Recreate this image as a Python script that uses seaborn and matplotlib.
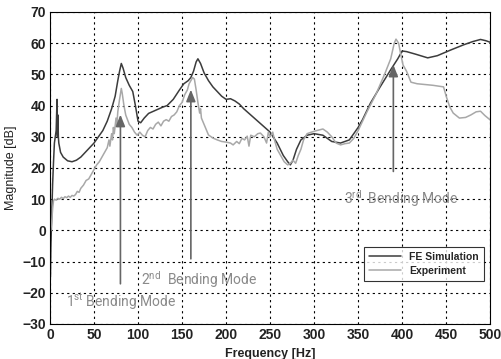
import numpy as np
import pandas as pd
import matplotlib
matplotlib.use('Agg')
import matplotlib.pyplot as plt
import seaborn as sns

# FE simulation curve
fe_freq = [0.5, 1, 2, 3, 4, 5, 6, 7, 8, 8.5, 9, 9.5, 10, 12, 15, 20, 25, 30, 35, 40,
           45, 50, 55, 60, 65, 70, 74, 77, 79, 81, 83, 86, 90, 94, 97, 100, 103, 107,
           112, 120, 128, 133, 140, 147, 152, 157, 160, 163, 166, 168, 171, 175, 180,
           185, 190, 195, 200, 205, 210, 215, 220, 230, 240, 250, 258, 265, 270, 273,
           276, 280, 285, 292, 300, 310, 315, 320, 330, 340, 345, 350, 355, 364, 375,
           387, 395, 400, 405, 415, 429, 440, 455, 470, 480, 489, 495, 500]
fe_mag = [-15, -5, 5, 15, 22, 28, 30, 32, 42, 30, 37, 30, 28, 25, 23.5, 22.3, 22, 22.5,
          23.5, 25, 26.5, 28, 30, 32, 35, 39, 43, 48, 51, 53.5, 52, 49, 46.5, 44.5, 40,
          35, 34.5, 36, 37.5, 38.5, 39.5, 40, 42, 45, 47, 48, 49, 51, 54, 55, 53.5, 50.5,
          48, 46, 44.5, 43, 42, 42.2, 41.5, 40.5, 39, 36.5, 34, 31.5, 28, 24, 22, 21,
          22.5, 26, 29, 30.5, 31, 30.5, 29.5, 28.5, 28, 29, 31, 33, 35.5, 40.8, 46,
          51.5, 55, 57.5, 57.3, 56.5, 55.3, 56, 57.8, 59.5, 60.5, 61.2, 60.8, 60.3]

# measured curve
exp_freq = [1, 2, 3, 4, 5, 7, 9, 11, 13, 15, 17, 19, 21, 23, 25, 27, 29, 31, 33, 35,
            38, 41, 44, 47, 50, 53, 56, 59, 62, 65, 67, 68, 70, 71, 72, 73, 75, 76, 77,
            79, 81, 82, 84, 86, 88, 90, 93, 96, 99, 102, 105, 108, 111, 114, 117, 120,
            123, 126, 129, 132, 135, 138, 141, 144, 147, 150, 153, 156, 158, 160, 162,
            164, 166, 168, 170, 171, 172, 175, 178, 180, 185, 190, 195, 200, 205, 208,
            212, 215, 218, 221, 224, 226, 228, 232, 236, 239, 243, 246, 248, 250, 253,
            255, 258, 262, 266, 270, 273, 276, 279, 282, 285, 288, 292, 297, 303, 310,
            315, 320, 325, 330, 335, 340, 345, 350, 360, 370, 380, 387, 391, 393, 396,
            398, 401, 405, 410, 417, 424, 435, 447, 450, 454, 458, 465, 472, 478, 484,
            489, 494, 500]
exp_mag = [0, 3, 7, 9.5, 10, 9.7, 10.3, 10, 10.6, 10.2, 10.8, 10.5, 11, 10.6, 11.2, 11,
           11.5, 12.5, 12.2, 13.5, 14.5, 16, 16.5, 18, 19.5, 21, 22, 23.5, 25, 26.5, 29,
           27, 31, 29, 33, 31, 36, 34, 38, 42, 45.5, 44, 40, 37, 35.5, 34, 33, 31.5, 30.5,
           31.5, 30.5, 30, 32, 33, 32.5, 34, 34.7, 33.5, 35, 35.5, 35, 36.5, 37, 38, 40,
           41, 43.5, 45, 47, 48, 49, 48.5, 45, 41, 37.6, 39, 36, 34, 32, 30.6, 29.6, 29,
           28.5, 28.3, 28, 27.4, 28.5, 27.8, 29.5, 29, 30.2, 27, 30.5, 30, 31, 31.2, 30,
           28, 31.5, 30, 31.5, 29, 26, 24, 22, 21, 21.5, 22.5, 21.5, 24, 26, 29, 31, 31.5,
           32, 32.5, 31.5, 30, 28, 27.4, 27.8, 28, 29.5, 32, 38, 43.5, 50, 55, 60, 61.3,
           60, 57, 53, 51, 47.5, 47, 46.8, 46.5, 46, 43, 39.6, 37.6, 36, 36.2, 37, 38,
           38.2, 36.8, 35.4]

# mode arrows: frequency, tail, tip
arrow_freq = [80, 160, 390]
arrow_tail = [-18, -10, 18]
arrow_tip = [38, 46, 54]
mode_labels = ['1$^{\\mathregular{st}}$ Bending Mode',
               '2$^{\\mathregular{nd}}$  Bending Mode',
               '3$^{\\mathregular{rd}}$  Bending Mode']
label_pos = [(18, -24.5), (103, -17.5), (334, 8.5)]

df = pd.concat([
    pd.DataFrame({'Frequency': fe_freq, 'Magnitude': fe_mag, 'Series': 'FE Simulation'}),
    pd.DataFrame({'Frequency': exp_freq, 'Magnitude': exp_mag, 'Series': 'Experiment'}),
])

sns.set_style('white')
plt.rcParams['font.family'] = ['Liberation Sans', 'DejaVu Sans']

fig = plt.figure(figsize=(5.02, 3.59), dpi=100)
ax = fig.add_axes([0.0996, 0.0975, 0.8769, 0.8691])

sns.lineplot(data=df, x='Frequency', y='Magnitude', hue='Series', sort=False,
             palette={'FE Simulation': '#3c3c3c', 'Experiment': '#a8a8a8'},
             linewidth=1.1, ax=ax)

for f, t0, t1 in zip(arrow_freq, arrow_tail, arrow_tip):
    ax.annotate('', xy=(f, t1), xytext=(f, t0),
                arrowprops=dict(arrowstyle='-|>,head_width=0.28,head_length=0.7',
                                color='#666666', lw=1.2))

for txt, (x, y) in zip(mode_labels, label_pos):
    ax.text(x, y, txt, color='#8a8a8a', fontsize=10, family='Roboto')

ax.set_xlim(0, 500)
ax.set_ylim(-30, 70)
ax.set_xticks(np.arange(0, 501, 50))
ax.set_yticks(np.arange(-30, 71, 10))
ax.grid(True, color='black', linestyle=(0, (2, 3)), linewidth=0.8)
for s in ax.spines.values():
    s.set_color('black')
    s.set_linewidth(0.8)
ax.tick_params(direction='in', length=4, labelsize=10, pad=3, color='black')
for lab in ax.get_xticklabels() + ax.get_yticklabels():
    lab.set_fontweight('bold')
    lab.set_color('#222222')
ax.set_xlabel('Frequency [Hz]', fontsize=9, fontweight='bold', color='#222222')
ax.set_ylabel('Magnitude [dB]', fontsize=9, color='#222222')

leg = ax.legend(loc='lower right', bbox_to_anchor=(0.997, 0.12), fontsize=7.5,
                frameon=True, fancybox=False, edgecolor='black', handlelength=3.0,
                borderpad=0.5, labelspacing=0.4)
leg.get_frame().set_linewidth(0.8)
for t in leg.get_texts():
    t.set_fontweight('bold')

fig.savefig('out.png', dpi=100)
